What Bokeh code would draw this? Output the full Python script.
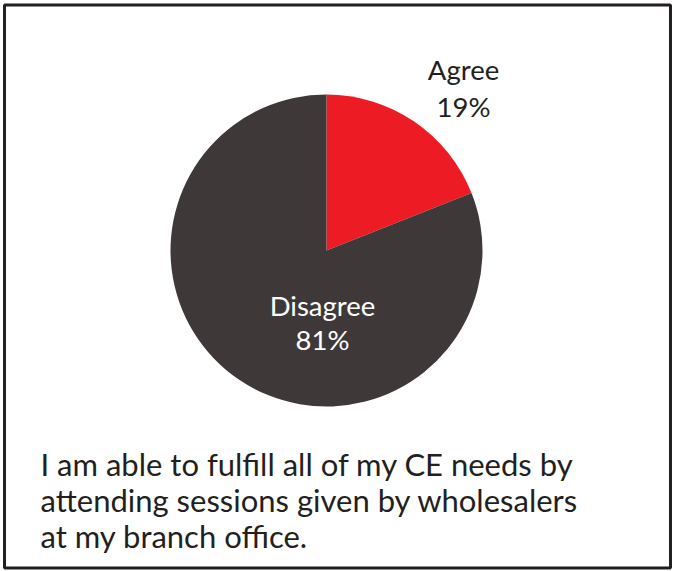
from math import pi
from bokeh.plotting import figure
from bokeh.models import Range1d, ColumnDataSource
from bokeh.core.properties import value
from bokeh.embed import file_html
from bokeh.resources import INLINE

# ---- data ----
categories = ["Agree", "Disagree"]
percents = [19, 81]
colors = ["#ed1c24", "#3e3839"]
caption_lines = [
    "I am able to fulfill all of my CE needs by",
    "attending sessions given by wholesalers",
    "at my branch office.",
]

W, H = 674, 570
FONT = "Lato"
TSHIFT = 10  # correction for text baseline placement

# work in screen-pixel-like coordinates (y measured upward)
def Y(py):
    return H - py

p = figure(width=W, height=H, output_backend="svg", toolbar_location=None,
           x_range=Range1d(0, W), y_range=Range1d(0, H),
           min_border=0, match_aspect=False)
p.axis.visible = False
p.grid.visible = False
p.outline_line_color = None
p.background_fill_color = "white"
p.border_fill_color = "white"

# frame
p.quad(left=[4], right=[670], top=[Y(4.5)], bottom=[Y(567.5)],
       fill_color=None, line_color="#231f20", line_width=3)

# pie geometry
cx, cy, r = 326, Y(250), 156
total = sum(percents)
ends = []
starts = []
cur = pi / 2
for v in percents:
    a = 2 * pi * v / total
    ends.append(cur)
    starts.append(cur - a)
    cur -= a
src = ColumnDataSource(dict(cat=categories, start=starts, end=ends, color=colors))
p.wedge(x=cx, y=cy, radius=r, start_angle="start", end_angle="end",
        fill_color="color", line_color=None, source=src)

# slice labels
lab_x = [463, 322]
lab_y1 = [Y(79 - TSHIFT), Y(315 - TSHIFT)]
lab_y2 = [Y(116 - TSHIFT), Y(349 - TSHIFT)]
lab_col = ["#231f20", "#ffffff"]
for i in range(len(categories)):
    p.text(x=[lab_x[i]], y=[lab_y1[i]], text=[categories[i]],
           text_align="center", text_baseline="alphabetic",
           text_font=value(FONT), text_font_size="27.5px", text_color=lab_col[i])
    p.text(x=[lab_x[i]], y=[lab_y2[i]], text=[f"{percents[i]}%"],
           text_align="center", text_baseline="alphabetic",
           text_font=value(FONT), text_font_size="27.5px", text_color=lab_col[i])

# caption
for k, line in enumerate(caption_lines):
    p.text(x=[40], y=[Y(473 - TSHIFT + 36 * k)], text=[line],
           text_align="left", text_baseline="alphabetic",
           text_font=value(FONT), text_font_size="31px", text_color="#231f20")

open("out.html", "w").write(file_html(p, INLINE))
